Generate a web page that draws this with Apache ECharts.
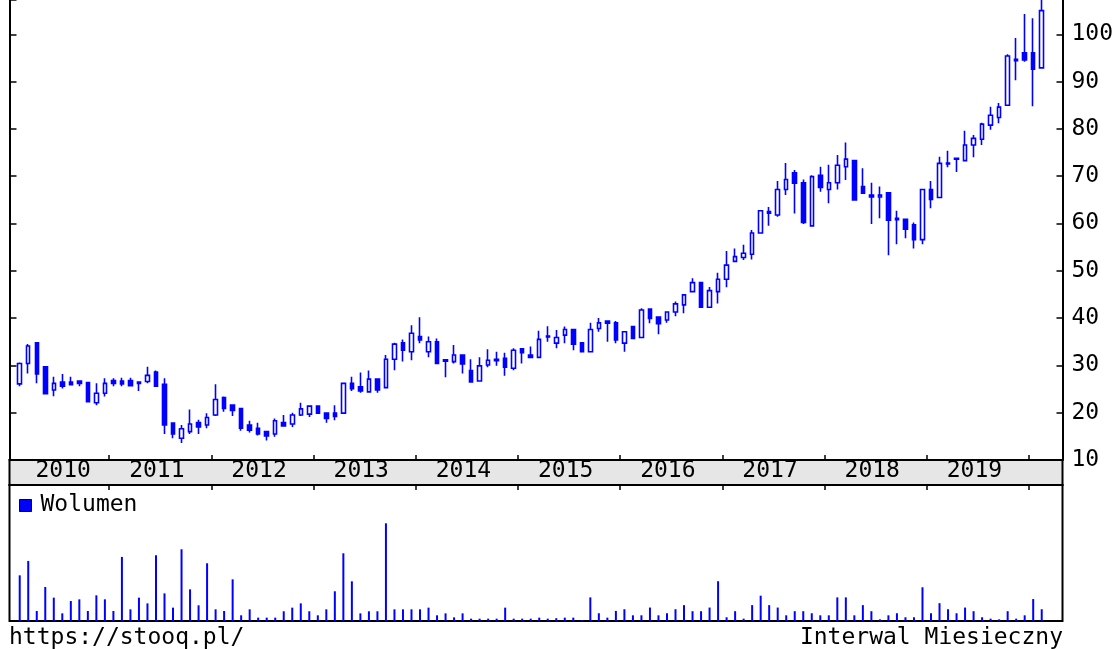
<!DOCTYPE html>
<html>
<head>
<meta charset="utf-8">
<script src="https://cdn.jsdelivr.net/npm/echarts@6/dist/echarts.min.js"></script>
<style>
html, body { margin: 0; padding: 0; background: #fff; }
#chart { width: 1116px; height: 649px; }
</style>
</head>
<body>
<div id="chart"></div>
<script>
// monthly candles, Feb 2010 .. Feb 2020
var months = [
    '2010-02','2010-03','2010-04','2010-05','2010-06','2010-07','2010-08','2010-09','2010-10','2010-11','2010-12',
    '2011-01','2011-02','2011-03','2011-04','2011-05','2011-06','2011-07','2011-08','2011-09','2011-10','2011-11','2011-12',
    '2012-01','2012-02','2012-03','2012-04','2012-05','2012-06','2012-07','2012-08','2012-09','2012-10','2012-11','2012-12',
    '2013-01','2013-02','2013-03','2013-04','2013-05','2013-06','2013-07','2013-08','2013-09','2013-10','2013-11','2013-12',
    '2014-01','2014-02','2014-03','2014-04','2014-05','2014-06','2014-07','2014-08','2014-09','2014-10','2014-11','2014-12',
    '2015-01','2015-02','2015-03','2015-04','2015-05','2015-06','2015-07','2015-08','2015-09','2015-10','2015-11','2015-12',
    '2016-01','2016-02','2016-03','2016-04','2016-05','2016-06','2016-07','2016-08','2016-09','2016-10','2016-11','2016-12',
    '2017-01','2017-02','2017-03','2017-04','2017-05','2017-06','2017-07','2017-08','2017-09','2017-10','2017-11','2017-12',
    '2018-01','2018-02','2018-03','2018-04','2018-05','2018-06','2018-07','2018-08','2018-09','2018-10','2018-11','2018-12',
    '2019-01','2019-02','2019-03','2019-04','2019-05','2019-06','2019-07','2019-08','2019-09','2019-10','2019-11','2019-12',
    '2020-01','2020-02'
];

var opens = [
    26.1,30.4,34.8,29.7,24.8,26.5,26.5,26.7,26.4,22.1,24.1,
    26.8,26.7,26.8,26.5,26.6,28.6,26.0,17.8,14.6,16.0,17.9,17.4,
    19.5,23.2,21.6,20.9,17.4,16.7,16.0,15.5,17.9,17.6,19.5,19.7,
    21.4,19.9,19.9,19.9,26.2,25.5,24.4,27.1,25.3,31.3,34.8,32.9,
    36.1,32.9,35.0,31.2,30.8,32.2,28.9,26.7,30.1,31.0,31.5,29.4,
    33.5,32.2,31.7,36.0,34.7,36.4,37.6,34.8,32.9,37.8,39.4,39.0,
    34.7,38.2,35.9,41.9,40.2,39.6,41.3,42.8,45.6,47.5,42.3,45.6,
    48.2,52.0,52.8,53.5,58.0,62.2,61.8,67.2,70.7,68.6,59.5,70.2,
    67.2,68.6,72.0,73.3,67.8,66.0,65.6,66.5,61.1,60.9,59.7,56.6,
    67.2,65.5,72.6,73.6,73.3,76.6,77.8,80.8,82.4,85.0,94.4,96.1,
    96.1,92.9
];
var closes = [
    30.4,34.1,28.2,24.0,26.2,25.6,25.9,26.2,22.3,24.1,26.2,
    26.2,26.1,25.7,26.2,27.9,25.6,17.4,15.5,16.6,17.6,17.0,19.0,
    22.8,20.9,20.5,16.7,16.3,15.5,15.1,18.3,17.2,19.5,20.8,21.4,
    19.9,18.8,19.2,26.2,25.1,24.6,27.1,24.8,31.3,34.5,33.2,36.8,
    35.4,35.0,30.4,30.9,32.2,30.3,26.5,29.9,31.1,31.3,29.6,33.2,
    32.7,31.7,35.5,36.2,35.9,37.6,34.5,32.9,37.6,39.0,38.9,35.4,
    37.1,35.7,41.7,39.9,38.8,41.3,43.0,44.9,47.5,42.3,45.8,48.2,
    51.2,53.0,53.7,58.0,62.7,62.5,67.2,69.3,68.5,60.2,69.9,67.6,
    68.6,72.3,73.6,65.0,66.4,65.6,66.0,60.7,60.8,58.8,56.6,67.2,
    65.1,72.7,72.8,73.8,76.6,78.0,81.0,82.9,84.6,95.4,94.7,94.6,
    92.6,105.0
];
var lows = [
    25.6,28.3,26.2,23.9,23.5,25.1,25.8,25.6,22.2,21.6,23.4,
    25.6,25.6,25.6,24.6,26.2,25.6,15.5,14.6,13.6,15.5,15.5,16.7,
    19.3,20.2,19.3,16.2,15.8,15.2,14.1,14.9,17.1,17.0,19.3,19.1,
    19.9,17.9,18.4,19.9,24.6,24.2,24.2,24.2,25.3,29.0,30.8,31.1,
    34.7,31.7,30.4,27.5,30.4,28.3,26.5,26.7,29.6,29.9,27.8,29.0,
    30.4,31.7,31.7,35.0,33.6,34.7,33.2,32.9,32.9,37.1,35.0,34.7,
    32.9,35.7,35.9,38.9,36.6,39.0,40.4,41.0,45.6,42.3,42.3,43.1,
    46.5,52.0,52.3,52.4,58.0,59.5,61.4,66.0,62.1,59.9,59.5,66.7,
    64.3,67.2,69.2,65.0,66.4,59.9,61.1,53.3,55.6,56.9,54.7,55.6,
    63.2,65.5,71.9,70.9,73.1,74.0,76.6,79.8,81.2,85.0,90.3,94.2,
    84.8,92.9
];
var highs = [
    30.6,34.5,34.8,29.7,27.6,28.2,27.6,26.7,26.4,26.2,27.3,
    27.3,27.4,27.4,26.6,29.7,28.9,27.3,17.9,17.4,20.7,18.5,19.9,
    26.0,23.4,21.6,21.0,18.3,17.9,16.1,18.8,19.5,20.0,22.1,21.4,
    21.4,19.9,21.6,26.2,27.6,28.5,28.9,27.1,32.2,34.8,35.5,38.5,
    40.2,36.1,35.7,31.2,34.3,32.2,31.3,31.7,33.4,32.9,32.7,33.6,
    33.5,34.0,37.3,38.3,37.5,38.2,37.6,34.8,39.0,40.0,39.5,39.4,
    37.2,38.2,42.1,41.9,40.2,41.4,43.5,44.9,48.4,47.5,46.6,49.6,
    54.2,54.7,55.5,58.6,62.7,63.5,69.0,72.8,71.3,69.3,70.2,72.0,
    72.4,74.5,77.1,73.3,71.7,68.6,67.8,66.5,62.7,60.9,60.2,67.2,
    69.0,74.1,75.4,73.9,79.6,78.7,81.3,84.7,85.5,95.8,99.2,104.3,
    103.4,108.5
];
var volumes = [
    48.9,64.3,10.7,36.4,25.0,8.2,21.4,23.2,10.7,27.5,23.2,
    10.7,68.6,12.5,25.0,18.9,70.4,29.6,14.3,76.8,33.9,16.8,61.8,
    12.5,10.7,44.6,6.1,12.5,3.6,3.6,3.6,10.4,14.3,18.9,10.4,
    6.1,12.5,31.8,72.5,42.5,8.2,10.4,10.4,104.6,12.5,12.5,12.5,
    12.5,14.3,6.1,8.2,3.9,8.2,2.5,2.5,2.5,2.5,14.3,2.5,
    2.5,2.5,3.6,2.5,3.0,3.6,3.6,1.0,25.3,8.3,3.6,10.8,
    12.6,6.1,6.1,14.4,6.1,8.3,12.6,17.0,10.5,10.5,14.4,42.6,
    4.0,10.5,2.5,17.0,27.1,17.0,14.4,6.1,10.5,10.5,8.3,6.1,
    6.1,25.3,25.3,6.1,17.0,10.5,1.8,6.1,8.3,4.0,4.0,36.1,
    8.3,19.1,12.6,8.3,14.4,10.5,4.0,2.5,1.8,10.5,2.5,6.1,
    23.5,12.6
];
var yearLabels = ['2010','2011','2012','2013','2014','2015','2016','2017','2018','2019'];

// x is measured in months from the start of 2010; a candle sits in the middle of its month
var FONT = 'DejaVu Sans Mono';
var FONT_SIZE = 23;
var xMin = 0.3, xMax = 123.94;

function monthPos(m) {
    var p = m.split('-');
    return (parseInt(p[0], 10) - 2010) * 12 + parseInt(p[1], 10) - 1 + 0.5;
}

var candleData = months.map(function(m, i) {
    return [monthPos(m), opens[i], closes[i], lows[i], highs[i]];
});
var volumeData = months.map(function(m, i) {
    return [monthPos(m), volumes[i]];
});
var yearStarts = yearLabels.slice(1).map(function(y) {
    return (parseInt(y, 10) - 2010) * 12;
}).concat([120]);
var labelPos = yearLabels.map(function(y, i) {
    return i === 0 ? 6.6 : i * 12 + 5.6;
});

var chart = echarts.init(document.getElementById('chart'));

var option = {
    animation: false,
    backgroundColor: '#fff',
    title: [
        {
            text: 'https://stooq.pl/', left: 9, top: 627, padding: 0,
            textStyle: { fontFamily: FONT, fontSize: FONT_SIZE, fontWeight: 'normal', color: '#000' }
        },
        {
            text: 'Interwal Miesieczny', right: 53, top: 627, padding: 0,
            textStyle: { fontFamily: FONT, fontSize: FONT_SIZE, fontWeight: 'normal', color: '#000' }
        }
    ],
    legend: {
        data: ['Wolumen'], left: 19, top: 494, padding: 0,
        icon: 'rect', itemWidth: 12, itemHeight: 12,
        itemStyle: { borderColor: '#000', borderWidth: 1 },
        textStyle: { fontFamily: FONT, fontSize: FONT_SIZE, color: '#000', padding: [0, 0, 0, 4] }
    },
    grid: [
        { left: 9.5, right: 53.5, top: 0, height: 460, outerBoundsMode: 'none' },
        { left: 9.5, right: 53.5, top: 485, height: 136, show: true, borderColor: '#000', borderWidth: 2, backgroundColor: '#fff', outerBoundsMode: 'none' },
        { left: 9.5, right: 53.5, top: 460, height: 25, show: true, borderColor: '#000', borderWidth: 2, backgroundColor: '#e6e6e6', outerBoundsMode: 'none' }
    ],
    xAxis: [
        {
            type: 'value', gridIndex: 0, min: xMin, max: xMax, position: 'bottom',
            axisLine: { show: true, onZero: false, lineStyle: { color: '#000', width: 2 } },
            axisTick: { show: true, inside: true, length: 5, customValues: yearStarts, lineStyle: { color: '#000', width: 1.5 } },
            axisLabel: {
                customValues: labelPos, margin: 11, verticalAlign: 'middle',
                color: '#000', fontFamily: FONT, fontSize: FONT_SIZE,
                formatter: function(v) {
                    return yearLabels[Math.floor(v / 12)];
                }
            },
            splitLine: { show: false }
        },
        {
            type: 'value', gridIndex: 1, min: xMin, max: xMax, position: 'top',
            axisLine: { show: true, onZero: false, lineStyle: { color: '#000', width: 2 } },
            axisTick: { show: true, inside: true, length: 5, customValues: yearStarts, lineStyle: { color: '#000', width: 1.5 } },
            axisLabel: { show: false },
            splitLine: { show: false }
        },
        { type: 'value', gridIndex: 2, min: xMin, max: xMax, show: false }
    ],
    yAxis: [
        {
            type: 'value', gridIndex: 0, position: 'right', min: 10, max: 107.25, interval: 10,
            axisLine: { show: true, lineStyle: { color: '#000', width: 2 } },
            axisTick: { show: true, inside: true, length: 6, lineStyle: { color: '#000', width: 1.5 } },
            axisLabel: { showMaxLabel: false, margin: 9, color: '#000', fontFamily: FONT, fontSize: FONT_SIZE },
            splitLine: { show: false }
        },
        {
            type: 'value', gridIndex: 0, position: 'left', min: 10, max: 107.25, interval: 10,
            axisLine: { show: true, lineStyle: { color: '#000', width: 2 } },
            axisTick: { show: true, inside: true, length: 7, lineStyle: { color: '#000', width: 1.5 } },
            axisLabel: { show: false },
            splitLine: { show: false }
        },
        { type: 'value', gridIndex: 1, min: 0, max: 145.6, show: false, splitLine: { show: false } },
        { type: 'value', gridIndex: 2, show: false, splitLine: { show: false } }
    ],
    series: [
        {
            type: 'candlestick', name: 'Kurs', xAxisIndex: 0, yAxisIndex: 0,
            data: candleData, barWidth: 4, clip: true,
            itemStyle: {
                color: '#ffffff', color0: '#0000ff',
                borderColor: '#0000ff', borderColor0: '#0000ff', borderColorDoji: '#0000ff',
                borderWidth: 1.6
            }
        },
        {
            type: 'bar', name: 'Wolumen', xAxisIndex: 1, yAxisIndex: 2,
            data: volumeData, barWidth: 2,
            itemStyle: { color: '#0000ff' }
        }
    ]
};

chart.setOption(option);
</script>
</body>
</html>
